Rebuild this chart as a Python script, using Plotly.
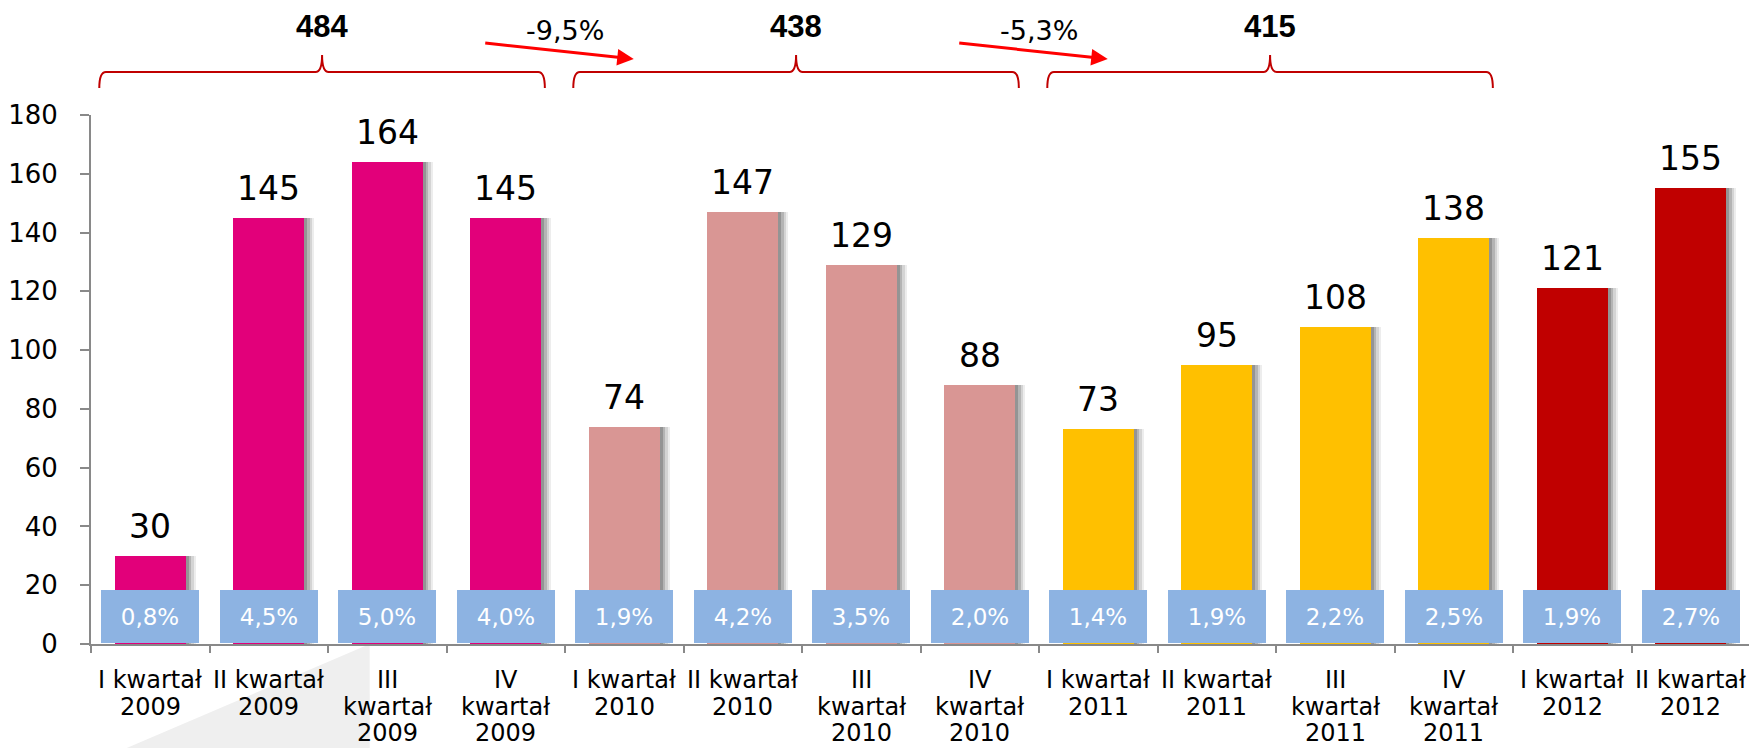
import plotly.graph_objects as go

# ---------------- data ----------------
categories = [
    "I kwartał<br>2009", "II kwartał<br>2009", "III<br>kwartał<br>2009", "IV<br>kwartał<br>2009",
    "I kwartał<br>2010", "II kwartał<br>2010", "III<br>kwartał<br>2010", "IV<br>kwartał<br>2010",
    "I kwartał<br>2011", "II kwartał<br>2011", "III<br>kwartał<br>2011", "IV<br>kwartał<br>2011",
    "I kwartał<br>2012", "II kwartał<br>2012",
]
values = [30, 145, 164, 145, 74, 147, 129, 88, 73, 95, 108, 138, 121, 155]
shares = ["0,8%", "4,5%", "5,0%", "4,0%", "1,9%", "4,2%", "3,5%", "2,0%",
          "1,4%", "1,9%", "2,2%", "2,5%", "1,9%", "2,7%"]
years = [2009, 2009, 2009, 2009, 2010, 2010, 2010, 2010,
         2011, 2011, 2011, 2011, 2012, 2012]

group_first = [0, 4, 8]
group_last = [3, 7, 11]
group_totals = ["484", "438", "415"]
changes = ["-9,5%", "-5,3%"]

# ---------------- style ----------------
year_colors = {2009: "#E2007A", 2010: "#D99694", 2011: "#FFC000", 2012: "#C00000"}
bar_colors = [year_colors[y] for y in years]
BOX_COLOR = "#8DB3E2"
BRACE_COLOR = "#C00000"
ARROW_COLOR = "#FF0000"
AXIS_COLOR = "#898989"
FONT = "DejaVu Sans, Liberation Sans, Arial, sans-serif"
BOLD_FONT = "Liberation Sans, Arial, sans-serif"
BAR_W = 0.6
BOX_W = 0.83
BOX_BASE = 0.4
BOX_TOP = 18.4

n = len(categories)
xmin, xmax = -0.5, n - 0.5


def xpaper(v):
    return (v - xmin) / (xmax - xmin)


fig = go.Figure()

# soft shadows on the right of bars
for off, alpha in [(0.085, 0.10), (0.065, 0.16), (0.045, 0.24), (0.025, 0.32)]:
    fig.add_trace(go.Bar(
        x=categories, y=values, width=BAR_W, offset=-BAR_W / 2 + off,
        marker=dict(color=f"rgba(80,80,80,{alpha})", line=dict(width=0)),
        hoverinfo="skip", showlegend=False,
    ))

# main bars
fig.add_trace(go.Bar(
    x=categories, y=values, width=BAR_W, offset=-BAR_W / 2,
    marker=dict(color=bar_colors, line=dict(width=0)),
    showlegend=False,
))

# percentage boxes
fig.add_trace(go.Bar(
    x=categories, y=[BOX_TOP - BOX_BASE] * n, base=BOX_BASE,
    width=BOX_W, offset=-BOX_W / 2,
    marker=dict(color=BOX_COLOR, line=dict(width=0)),
    text=shares, textposition="inside", insidetextanchor="middle",
    textangle=0, textfont=dict(color="white", size=23, family=FONT),
    showlegend=False, hoverinfo="skip",
))

annotations = []
# value labels
for c, v in zip(categories, values):
    annotations.append(dict(
        x=c, y=v, xref="x", yref="y", text=str(v), showarrow=False,
        xanchor="center", yanchor="bottom", yshift=8,
        font=dict(size=33, color="black", family=FONT),
    ))

# category labels (tight line spacing)
for c in categories:
    for k, line in enumerate(c.split("<br>")):
        annotations.append(dict(
            x=c, y=0, xref="x", yref="paper", text=line, showarrow=False,
            xanchor="center", yanchor="middle", yshift=-(36 + 26.5 * k),
            borderpad=0, font=dict(size=24, color="black", family=FONT),
        ))

shapes = []
# brackets with totals
Y_END, Y_LINE, Y_TIP = 1.051, 1.0814, 1.1136
for a, b, t in zip(group_first, group_last, group_totals):
    x0 = xpaper(a - 0.43)
    x1 = xpaper(b + 0.33)
    xc = (x0 + x1) / 2
    d = 0.004
    path = (f"M {x0},{Y_END} Q {x0},{Y_LINE} {x0 + d},{Y_LINE} "
            f"L {xc - d},{Y_LINE} Q {xc},{Y_LINE} {xc},{Y_TIP} "
            f"Q {xc},{Y_LINE} {xc + d},{Y_LINE} "
            f"L {x1 - d},{Y_LINE} Q {x1},{Y_LINE} {x1},{Y_END}")
    shapes.append(dict(type="path", path=path, xref="paper", yref="paper",
                       line=dict(color=BRACE_COLOR, width=2)))
    annotations.append(dict(
        x=xc, y=1.167, xref="paper", yref="paper", text=f"<b>{t}</b>",
        xanchor="center", yanchor="middle", showarrow=False,
        font=dict(size=31, color="black", family=BOLD_FONT),
    ))

# change arrows
for i, ch in enumerate(changes):
    boundary = group_last[i] + 0.5
    annotations.append(dict(
        x=xpaper(boundary + 0.0), y=1.16, xref="paper", yref="paper", text=ch,
        xanchor="center", yanchor="middle", showarrow=False,
        font=dict(size=27, color="black", family=FONT),
    ))
    annotations.append(dict(
        x=xpaper(boundary + 0.58), y=1.106, xref="paper", yref="paper",
        ax=-150, ay=-16, axref="pixel", ayref="pixel", text="",
        showarrow=True, arrowhead=2, arrowsize=1.1, arrowwidth=3,
        arrowcolor=ARROW_COLOR,
    ))

# faint background wedge (bottom-left decoration)
shapes.append(dict(type="path", path="M 0.019,-0.2 L 0.168,0 L 0.168,-0.2 Z",
                   xref="paper", yref="paper", fillcolor="#EFEFEF",
                   line=dict(width=0), layer="below"))

# page body has an 8px margin: size/margins compensate so the plot lands where the reference has it
fig.update_layout(
    width=1749, height=740,
    margin=dict(l=83, r=7, t=107, b=104),
    paper_bgcolor="white", plot_bgcolor="white",
    barmode="overlay", bargap=0,
    font=dict(family=FONT, color="black"),
    shapes=shapes, annotations=annotations,
    showlegend=False,
)
fig.update_xaxes(
    type="category", range=[xmin, xmax], tickson="boundaries",
    ticks="outside", ticklen=7, tickwidth=2, tickcolor=AXIS_COLOR,
    showline=True, linecolor=AXIS_COLOR, linewidth=2,
    showgrid=False, showticklabels=False, automargin=False,
)
fig.update_yaxes(
    range=[0, 180], dtick=20, ticks="outside", ticklen=9, tickwidth=2,
    tickcolor=AXIS_COLOR, showline=True, linecolor=AXIS_COLOR, linewidth=2,
    showgrid=False, zeroline=False, tickfont=dict(size=26, color="black", family=FONT),
    ticklabelstandoff=17, automargin=False,
)

fig.write_html("out.html")
